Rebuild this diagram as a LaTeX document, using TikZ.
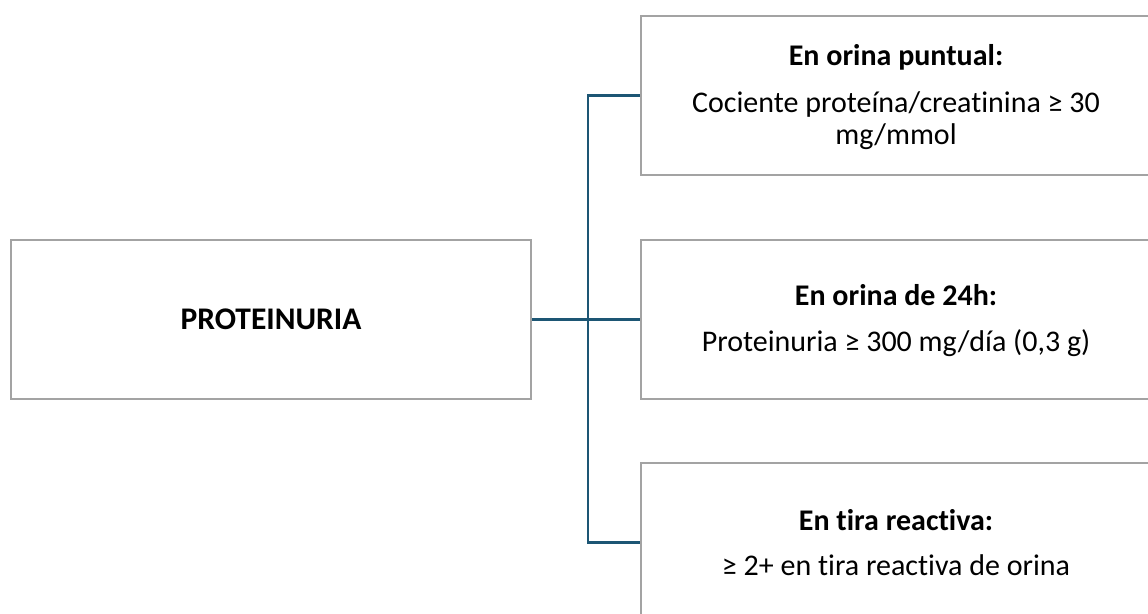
\documentclass[tikz,border=0pt]{standalone}
\usepackage{fontspec}
\setmainfont{Carlito}[Ligatures=NoCommon]
\usetikzlibrary{positioning}

\definecolor{boxgrey}{HTML}{A3A3A3}
\definecolor{linkteal}{HTML}{1D5674}

\tikzset{
  critbox/.style={draw=boxgrey, line width=2pt, minimum width=510pt, minimum height=159pt, inner sep=0pt},
  critlink/.style={draw=linkteal, line width=2.5pt},
  crittext/.style={align=center, font=\fontsize{30}{32.5}\selectfont}
}

\begin{document}
\begin{tikzpicture}[
  x=1pt, y=-1pt
]
\useasboundingbox (0,0) rectangle (1148,613);

\node [critbox, minimum width=520pt] (prot) at (271,319.5) {};
\node [crittext, font=\fontsize{31.5}{34}\selectfont] (protlabel) at (prot.center) {\textbf{PROTEINURIA}};

\node [critbox] (puntual) at (896,95.5) {};
\node [critbox] (horas) at (896,319.5) {};
\node [critbox] (tira) at (896,542.5) {};

\node [crittext] (puntuallabel) at ([yshift=-2pt]puntual.center) {\textbf{En orina puntual:}\\[14pt]Cociente proteína/creatinina ≥ 30\\mg/mmol};
\node [crittext] (horaslabel) at ([yshift=-1pt]horas.center) {\textbf{En orina de 24h:}\\[14pt]Proteinuria ≥ 300 mg/día (0,3 g)};
\node [crittext] (tiralabel) at (tira.center) {\textbf{En tira reactiva:}\\[13pt]≥ 2+ en tira reactiva de orina};

% connector
\coordinate (split) at (588,319.5);
\draw [critlink] (prot.east) -- (split);
\draw [critlink] (split) |- (puntual.west);
\draw [critlink] (split) -- (horas.west);
\draw [critlink] (split) |- (tira.west);
\end{tikzpicture}
\end{document}
